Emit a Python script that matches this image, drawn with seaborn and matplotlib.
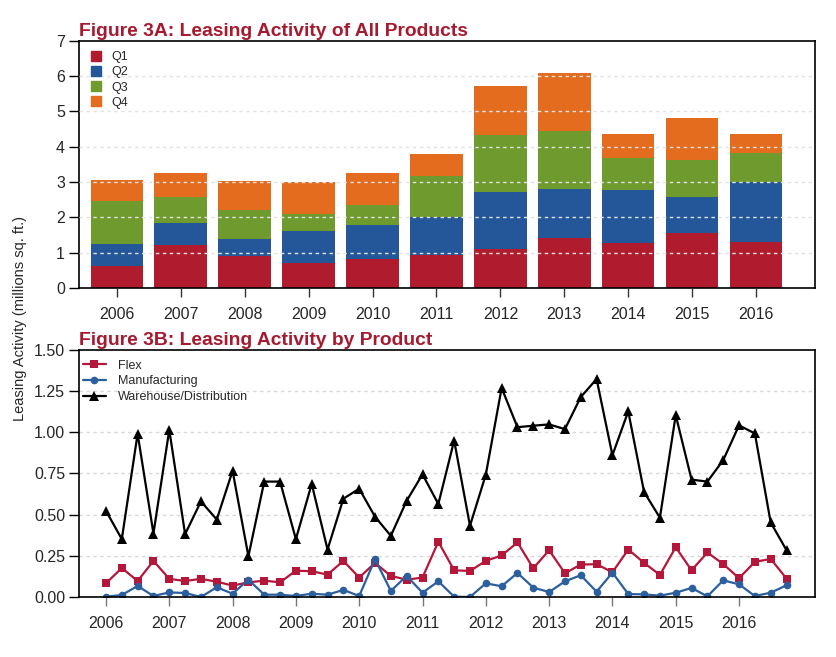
import matplotlib
matplotlib.use("Agg")
import matplotlib.pyplot as plt
from matplotlib.lines import Line2D
import seaborn as sns
import numpy as np
import pandas as pd

# --- data (millions sq. ft.) ---
years = ["2006", "2007", "2008", "2009", "2010", "2011",
         "2012", "2013", "2014", "2015", "2016"]
q1 = [0.62, 1.21, 0.91, 0.70, 0.81, 0.93, 1.11, 1.41, 1.27, 1.57, 1.30]
q2 = [0.62, 0.63, 0.47, 0.91, 0.97, 1.07, 1.60, 1.39, 1.50, 1.00, 1.69]
q3 = [1.21, 0.73, 0.82, 0.49, 0.56, 1.16, 1.61, 1.64, 0.91, 1.05, 0.83]
q4 = [0.60, 0.68, 0.84, 0.91, 0.91, 0.63, 1.39, 1.64, 0.67, 1.19, 0.53]

flex = [0.083, 0.176, 0.097, 0.219, 0.110, 0.097, 0.110, 0.093,
        0.069, 0.089, 0.099, 0.089, 0.160, 0.156, 0.136, 0.219,
        0.118, 0.207, 0.128, 0.105, 0.118, 0.335, 0.162, 0.158,
        0.219, 0.252, 0.331, 0.174, 0.284, 0.144, 0.197, 0.199,
        0.150, 0.288, 0.207, 0.134, 0.302, 0.162, 0.270, 0.200,
        0.114, 0.213, 0.231, 0.112]
manufacturing = [0.002, 0.012, 0.067, 0.006, 0.028, 0.024, 0.000, 0.059,
                 0.020, 0.105, 0.014, 0.014, 0.006, 0.020, 0.014, 0.043,
                 0.006, 0.229, 0.037, 0.128, 0.026, 0.095, 0.002, 0.000,
                 0.083, 0.065, 0.146, 0.057, 0.030, 0.095, 0.132, 0.032,
                 0.148, 0.018, 0.016, 0.008, 0.026, 0.055, 0.004, 0.101,
                 0.077, 0.006, 0.026, 0.071]
warehouse = [0.523, 0.351, 0.990, 0.385, 1.014, 0.381, 0.580, 0.470,
             0.765, 0.247, 0.700, 0.700, 0.351, 0.686, 0.288, 0.596,
             0.657, 0.487, 0.371, 0.584, 0.744, 0.564, 0.949, 0.432,
             0.742, 1.268, 1.030, 1.039, 1.047, 1.018, 1.213, 1.322,
             0.860, 1.126, 0.637, 0.481, 1.103, 0.712, 0.700, 0.830,
             1.041, 0.992, 0.452, 0.284]

quarters = pd.period_range("2006Q1", "2016Q4", freq="Q")
qx = quarters.year + (quarters.quarter - 1) / 4.0

c_q1, c_q2, c_q3, c_q4 = "#B01C2E", "#23579A", "#6F9A2E", "#E36C1E"
c_title = "#A6192E"

sns.set_style("white")
plt.rcParams["font.family"] = ["Liberation Sans", "DejaVu Sans"]

fig = plt.figure(figsize=(8.36, 6.57), dpi=100)
W, H = 836, 657
ax1 = fig.add_axes([79 / W, 1 - 288 / H, 736 / W, 247.3 / H])
ax2 = fig.add_axes([79 / W, 1 - 597 / H, 736 / W, 247.3 / H])

# --- Figure 3A: stacked bars, drawn back to front ---
df = pd.DataFrame({"year": years, "Q1": q1, "Q2": q2, "Q3": q3, "Q4": q4})
layers = [("Q4", c_q4), ("Q3", c_q3), ("Q2", c_q2), ("Q1", c_q1)]
cols = ["Q1", "Q2", "Q3", "Q4"]
for name, col in layers:
    upto = cols[:cols.index(name) + 1]
    sns.barplot(x=df["year"], y=df[upto].sum(axis=1), color=col,
                width=0.82, saturation=1, edgecolor="none", ax=ax1)

ax1.set_xlim(-0.59, 10.92)
ax1.set_ylim(0, 7)
ax1.set_yticks(range(0, 8))
ax1.set_xlabel("")
ax1.set_ylabel("")
ax1.set_axisbelow(False)
for v in range(1, 7):
    ax1.axhline(v, color="#e2e2e2", lw=1.0, ls=(0, (2.5, 2.5)), zorder=3)

handles = [Line2D([], [], marker="s", ls="none", color=c, markersize=7)
           for c in (c_q1, c_q2, c_q3, c_q4)]
ax1.legend(handles, cols, loc="upper left", bbox_to_anchor=(0.0, 1.0),
           frameon=False, fontsize=9, handlelength=1.0, handletextpad=0.7,
           labelspacing=0.25, borderaxespad=0.45)

ax1.text(0, 1.02, "Figure 3A: Leasing Activity of All Products",
         transform=ax1.transAxes, ha="left", va="baseline",
         fontsize=13.9, fontweight="bold", color=c_title)

# --- Figure 3B: lines by product ---
sns.lineplot(x=qx, y=flex, color="#B5173A", marker="s", markersize=5.5,
             markeredgewidth=0, linewidth=1.6, label="Flex", ax=ax2)
sns.lineplot(x=qx, y=manufacturing, color="#2B5F9E", marker="o",
             markersize=5.5, markeredgewidth=0, linewidth=1.6,
             label="Manufacturing", ax=ax2)
sns.lineplot(x=qx, y=warehouse, color="black", marker="^", markersize=7,
             markeredgewidth=0, linewidth=1.6,
             label="Warehouse/Distribution", ax=ax2)

ax2.set_xlim(2005.574, 2017.2)
ax2.set_ylim(0, 1.5)
ax2.set_xticks(range(2006, 2017))
ax2.set_xticklabels(years)
ax2.set_yticks(np.arange(0, 1.51, 0.25))
ax2.set_yticklabels([f"{v:.2f}" for v in np.arange(0, 1.51, 0.25)])
for v in np.arange(0.25, 1.5, 0.25):
    ax2.axhline(v, color="#d8d8d8", lw=1.0, ls=(0, (2.5, 2.5)), zorder=1)
ax2.set_xlabel("")
ax2.set_ylabel("")
ax2.legend(loc="upper left", bbox_to_anchor=(-0.007, 0.995), frameon=False,
           fontsize=9, handlelength=1.9, handletextpad=0.9,
           labelspacing=0.3, borderaxespad=0.3)

ax2.text(0, 1.02, "Figure 3B: Leasing Activity by Product",
         transform=ax2.transAxes, ha="left", va="baseline",
         fontsize=13.9, fontweight="bold", color=c_title)

for ax, tc in ((ax1, "#333333"), (ax2, "#777777")):
    for s in ax.spines.values():
        s.set_visible(True)
        s.set_color("black")
        s.set_linewidth(1.2)
    ax.tick_params(axis="y", direction="out", length=7, width=1,
                   color="black", labelsize=11.5, pad=3, left=True)
    ax.tick_params(axis="x", direction="out", length=6.5, width=1,
                   color=tc, labelsize=11.5, pad=7, bottom=True)

fig.text(20 / W, 1 - 319 / H, "Leasing Activity (millions sq. ft.)",
         rotation=90, ha="center", va="center", fontsize=10.5)

fig.savefig("out.png", dpi=100)
